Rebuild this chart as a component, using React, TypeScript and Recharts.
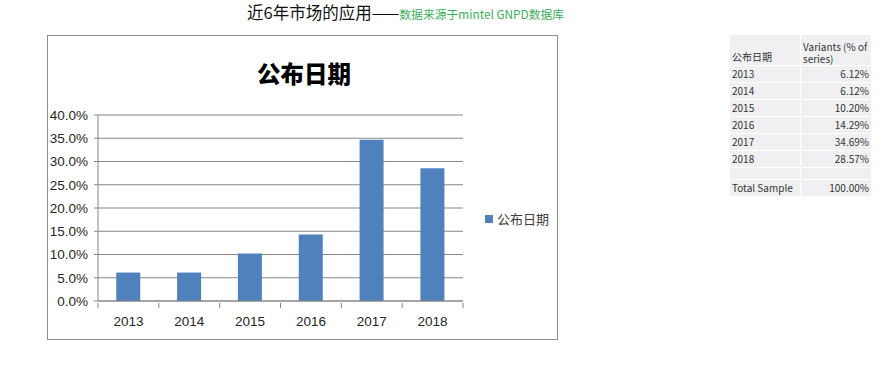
import React from 'react';
import { BarChart, Bar, XAxis, YAxis, CartesianGrid } from 'recharts';

const years = ['2013', '2014', '2015', '2016', '2017', '2018'];
const shares = [0.0612, 0.0612, 0.102, 0.1429, 0.3469, 0.2857];
const yTicks = [0, 0.05, 0.1, 0.15, 0.2, 0.25, 0.3, 0.35, 0.4];
const tableValues = ['6.12%', '6.12%', '10.20%', '14.29%', '34.69%', '28.57%'];
const seriesName = '公布日期';
const headerMain = '近6年市场的应用——';
const headerSource = '数据来源于mintel GNPD数据库';

const data = years.map((y, i) => ({ year: y, value: shares[i] }));

const CAT_W = 365 / 6;

const XTick = (props: any) => {
  const { x, y, payload, index } = props;
  return (
    <g>
      <line x1={x - CAT_W / 2} x2={x - CAT_W / 2} y1={y - 6} y2={y - 1} stroke="#868686" />
      {index === years.length - 1 && (
        <line x1={x + CAT_W / 2} x2={x + CAT_W / 2} y1={y - 6} y2={y - 1} stroke="#868686" />
      )}
      <text x={x} y={y + 17} textAnchor="middle" fill="#262626" fontSize={13.5} fontFamily="Liberation Sans, Arial, sans-serif">
        {payload.value}
      </text>
    </g>
  );
};

const cellStyle: React.CSSProperties = {
  borderBottom: '1px solid #ffffff',
  padding: '0 2px',
  height: 16,
  lineHeight: '16px',
  verticalAlign: 'bottom',
};

export default function App() {
  return (
    <div style={{ position: 'absolute', left: 0, top: 0, width: 890, height: 378, background: '#fff', fontFamily: '"Noto Sans CJK SC", "Noto Sans", sans-serif' }}>
      <div style={{ position: 'absolute', left: 247, top: 2, whiteSpace: 'nowrap', lineHeight: '20px' }}>
        <span style={{ fontSize: 16.5, color: '#111' }}>{headerMain}</span>
        <span style={{ fontSize: 11.8, color: '#3aae5b' }}>{headerSource}</span>
      </div>

      <div style={{ position: 'absolute', left: 47, top: 35, width: 511, height: 305, border: '1px solid #8c8c8c', boxSizing: 'border-box' }}>
        <div style={{ position: 'absolute', left: 209, top: 19, fontSize: 23.5, fontWeight: 900, color: '#000', lineHeight: '36px', whiteSpace: 'nowrap' }}>
          {seriesName}
        </div>
        <BarChart width={509} height={303} data={data} margin={{ top: 79, right: 94, bottom: 8, left: 0 }} barCategoryGap="30%">
          <CartesianGrid vertical={false} stroke="#868686" strokeWidth={1} />
          <XAxis dataKey="year" stroke="#868686" tickLine={false} tick={<XTick />} height={30} interval={0} />
          <YAxis
            domain={[0, 0.4]}
            ticks={yTicks}
            width={50}
            stroke="#868686"
            tickSize={4}
            tickMargin={6}
            tickFormatter={(v: number) => (v * 100).toFixed(1) + '%'}
            tick={{ fill: '#262626', fontSize: 13.5, fontFamily: 'Liberation Sans, Arial, sans-serif' }}
            interval={0}
          />
          <Bar dataKey="value" name={seriesName} fill="#4f81bd" isAnimationActive={false} />
        </BarChart>
        <div style={{ position: 'absolute', left: 437, top: 173, display: 'flex', alignItems: 'center', whiteSpace: 'nowrap' }}>
          <span style={{ display: 'inline-block', width: 8, height: 8, background: '#4f81bd', marginRight: 4 }} />
          <span style={{ color: '#404040', fontSize: 13, lineHeight: '20px' }}>{seriesName}</span>
        </div>
      </div>

      <table style={{ position: 'absolute', left: 730, top: 35, width: 141, borderCollapse: 'collapse', background: '#f0f0f2', fontSize: 10, color: '#333', fontFamily: '"Noto Sans CJK SC", "Noto Sans", sans-serif' }}>
        <tbody>
          <tr>
            <td style={{ ...cellStyle, height: 30, width: 66, borderRight: '1px solid #fff' }}>{seriesName}</td>
            <td style={{ ...cellStyle, height: 30, lineHeight: '12px' }}>Variants (% of series)</td>
          </tr>
          {years.map((y, i) => (
            <tr key={y}>
              <td style={{ ...cellStyle, borderRight: '1px solid #fff' }}>{y}</td>
              <td style={{ ...cellStyle, textAlign: 'right' }}>{tableValues[i]}</td>
            </tr>
          ))}
          <tr>
            <td style={{ ...cellStyle, height: 11, borderRight: '1px solid #fff' }}></td>
            <td style={{ ...cellStyle, height: 11 }}></td>
          </tr>
          <tr>
            <td style={{ ...cellStyle, borderRight: '1px solid #fff', whiteSpace: 'nowrap' }}>Total Sample</td>
            <td style={{ ...cellStyle, textAlign: 'right' }}>100.00%</td>
          </tr>
        </tbody>
      </table>
    </div>
  );
}
